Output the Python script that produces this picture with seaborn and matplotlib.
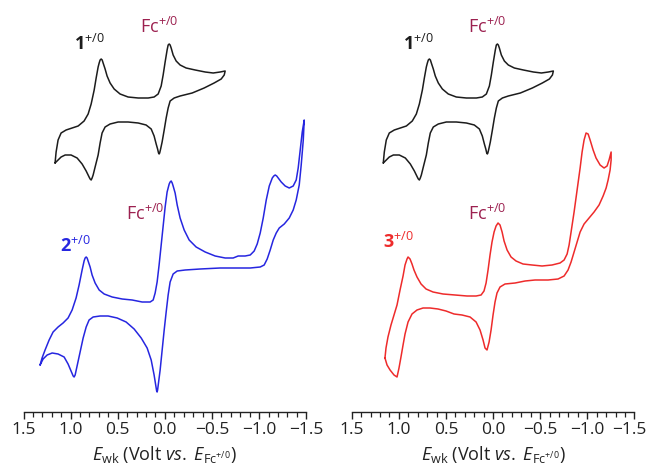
import numpy as np
import pandas as pd
import matplotlib
matplotlib.use("Agg")
import matplotlib.pyplot as plt
from matplotlib.ticker import MultipleLocator
from matplotlib.transforms import ScaledTranslation
import seaborn as sns

# ---------------- data: potential (V vs Fc+/0) and current (a.u., traces stacked) ----------------
# compound 1 (reference trace, same in both panels)
cv1_fwd_E = [1.165, 1.154, 1.133, 1.101, 1.048, 0.984, 0.920, 0.857, 0.814, 0.782, 0.750, 0.729,
             0.708, 0.697, 0.687, 0.676, 0.665, 0.655, 0.634, 0.613, 0.581, 0.538, 0.475, 0.390,
             0.283, 0.177, 0.114, 0.071, 0.039, 0.018, -0.003, -0.024, -0.035, -0.046, -0.056,
             -0.067, -0.088, -0.120, -0.162, -0.226, -0.322, -0.428, -0.513, -0.587, -0.640]
cv1_fwd_I = [25.0, 26.1, 27.3, 28.0, 28.3, 28.5, 28.7, 29.2, 29.9, 30.9, 32.3, 33.5,
             34.6, 35.0, 35.3, 35.4, 35.3, 35.0, 34.4, 33.7, 33.0, 32.4, 31.9, 31.6,
             31.5, 31.5, 31.6, 31.9, 32.7, 33.8, 35.1, 36.3, 36.8, 36.9, 36.8,
             36.5, 35.8, 35.2, 34.8, 34.5, 34.3, 34.1, 34.0, 34.1, 34.2]
cv1_rev_E = [-0.640, -0.630, -0.598, -0.523, -0.417, -0.290, -0.162, -0.099, -0.056, -0.035,
             -0.014, 0.007, 0.029, 0.045, 0.055, 0.061, 0.067, 0.077, 0.092, 0.114, 0.145,
             0.199, 0.283, 0.390, 0.496, 0.581, 0.634, 0.666, 0.687, 0.708, 0.740, 0.761,
             0.772, 0.782, 0.793, 0.804, 0.835, 0.878, 0.931, 0.995, 1.058, 1.101, 1.133,
             1.165]
cv1_rev_I = [34.2, 33.8, 33.4, 33.0, 32.5, 32.0, 31.7, 31.5, 31.2, 30.5,
             29.5, 28.3, 27.1, 26.4, 26.0, 25.9, 26.0, 26.4, 26.9, 27.7, 28.4,
             28.8, 29.0, 29.1, 29.1, 28.9, 28.6, 28.0, 27.0, 25.8, 24.6, 23.8,
             23.5, 23.3, 23.4, 23.6, 24.2, 24.9, 25.5, 25.8, 25.8, 25.6, 25.3,
             25.0]

# compound 2 with internal Fc
cv2_fwd_E = [1.324, 1.303, 1.271, 1.228, 1.186, 1.133, 1.080, 1.027, 0.984, 0.942, 0.910, 0.878,
             0.857, 0.846, 0.835, 0.825, 0.814, 0.793, 0.772, 0.740, 0.697, 0.644, 0.559, 0.453,
             0.347, 0.241, 0.156, 0.124, 0.103, 0.082, 0.061, 0.039, 0.018, -0.003, -0.024,
             -0.046, -0.056, -0.067, -0.078, -0.088, -0.109, -0.131, -0.162, -0.205, -0.258,
             -0.332, -0.428, -0.534, -0.640, -0.725, -0.778, -0.852, -0.906, -0.948, -0.980,
             -1.012, -1.044, -1.076, -1.108, -1.140, -1.156, -1.171, -1.187, -1.203, -1.235,
             -1.277, -1.320, -1.362, -1.394, -1.415, -1.436, -1.458, -1.479]
cv2_fwd_I = [4.8, 5.5, 6.3, 7.3, 8.1, 8.6, 9.0, 9.5, 10.3, 11.5, 12.8, 14.3,
             15.2, 15.5, 15.6, 15.5, 15.2, 14.6, 13.8, 13.0, 12.3, 11.9, 11.6, 11.4,
             11.3, 11.1, 11.1, 11.3, 12.0, 13.1, 14.8, 16.8, 18.8, 20.6, 22.1,
             22.9, 23.1, 23.2, 23.0, 22.7, 22.0, 20.8, 19.5, 18.3, 17.3,
             16.6, 16.1, 15.7, 15.5, 15.5, 15.7, 15.7, 15.8, 16.2, 16.9,
             18.0, 19.5, 21.3, 22.7, 23.5, 23.7, 23.8, 23.7, 23.5, 23.1,
             22.7, 22.5, 22.7, 23.3, 24.5, 26.3, 28.1, 29.3]
cv2_rev_E = [-1.479, -1.469, -1.447, -1.426, -1.394, -1.362, -1.320, -1.267, -1.214, -1.182,
             -1.150, -1.118, -1.086, -1.054, -1.012, -0.906, -0.746, -0.587, -0.375, -0.216,
             -0.131, -0.088, -0.056, -0.035, -0.014, 0.007, 0.029, 0.050, 0.071, 0.077,
             0.082, 0.087, 0.092, 0.114, 0.145, 0.188, 0.251, 0.326, 0.411, 0.506, 0.602,
             0.687, 0.761, 0.804, 0.835, 0.867, 0.899, 0.931, 0.952, 0.963, 0.973, 0.995,
             1.027, 1.069, 1.133, 1.196, 1.249, 1.292, 1.324]
cv2_rev_I = [29.3, 27.3, 24.8, 22.8, 21.3, 20.3, 19.5, 18.9, 18.5, 18.0,
             17.3, 16.3, 15.4, 14.8, 14.6, 14.5, 14.5, 14.5, 14.4, 14.3,
             14.2, 13.9, 13.1, 11.8, 10.1, 8.3, 6.3, 4.3, 2.8, 2.3,
             2.1, 2.2, 2.5, 3.8, 5.3, 6.5, 7.5, 8.4, 9.1, 9.5, 9.7,
             9.7, 9.6, 9.3, 8.6, 7.5, 6.1, 4.7, 3.8, 3.6, 3.7, 4.2,
             4.9, 5.6, 5.9, 6.0, 5.8, 5.4, 4.8]

# compound 3 with internal Fc
cv3_fwd_E = [1.147, 1.136, 1.115, 1.083, 1.051, 1.019, 0.987, 0.955, 0.934, 0.913, 0.902, 0.881,
             0.860, 0.839, 0.807, 0.764, 0.711, 0.637, 0.531, 0.403, 0.276, 0.180, 0.127, 0.096,
             0.074, 0.053, 0.032, 0.011, -0.011, -0.032, -0.053, -0.074, -0.096, -0.117, -0.149,
             -0.191, -0.244, -0.318, -0.414, -0.520, -0.626, -0.711, -0.754, -0.786, -0.807,
             -0.828, -0.860, -0.892, -0.924, -0.945, -0.966, -0.987, -1.009, -1.030, -1.062,
             -1.093, -1.136, -1.178, -1.210, -1.231, -1.253]
cv3_fwd_I = [5.5, 6.5, 7.6, 8.8, 9.8, 10.8, 12.3, 13.7, 14.8, 15.4, 15.6, 15.4,
             14.9, 14.3, 13.6, 12.9, 12.4, 12.1, 11.9, 11.8, 11.7, 11.7, 11.8, 12.2,
             13.0, 14.3, 15.8, 17.1, 18.1, 18.7, 19.0, 18.8, 18.1, 17.2, 16.3,
             15.6, 15.2, 14.9, 14.8, 14.7, 14.8, 15.0, 15.3, 15.9, 16.8,
             18.1, 20.1, 22.3, 24.5, 26.1, 27.3, 28.0, 27.9, 27.3, 26.3,
             25.5, 24.8, 24.5, 24.7, 25.3, 26.1]
cv3_rev_E = [-1.253, -1.253, -1.242, -1.221, -1.200, -1.168, -1.125, -1.072, -1.019, -0.966,
             -0.924, -0.892, -0.860, -0.828, -0.796, -0.754, -0.690, -0.584, -0.446, -0.340,
             -0.234, -0.127, -0.074, -0.042, -0.021, 0.000, 0.021, 0.042, 0.064, 0.085,
             0.106, 0.138, 0.180, 0.244, 0.329, 0.414, 0.499, 0.584, 0.669, 0.743, 0.807,
             0.860, 0.902, 0.934, 0.955, 0.977, 0.998, 1.019, 1.051, 1.093, 1.125, 1.147]
cv3_rev_I = [26.1, 25.3, 24.3, 23.3, 22.5, 21.7, 20.8, 20.1, 19.5, 18.9,
             18.1, 17.1, 16.1, 15.1, 14.3, 13.7, 13.4, 13.3, 13.3, 13.2,
             13.0, 12.9, 12.6, 12.0, 11.1, 9.8, 8.3, 7.1, 6.3, 6.5,
             7.3, 8.3, 9.1, 9.6, 9.8, 9.9, 10.2, 10.4, 10.5, 10.5, 10.3,
             9.9, 9.1, 7.9, 6.8, 5.6, 4.5, 3.6, 3.8, 4.3, 4.8, 5.5]

x_ticks = [1.5, 1.0, 0.5, 0.0, -0.5, -1.0, -1.5]

# ---------------- style ----------------
sns.set_style("ticks")
plt.rcParams["font.family"] = ["Open Sans", "DejaVu Sans"]
plt.rcParams["mathtext.fontset"] = "custom"
plt.rcParams["mathtext.rm"] = "Open Sans"
plt.rcParams["mathtext.it"] = "Open Sans:italic"
plt.rcParams["mathtext.bf"] = "Open Sans:bold"

BLACK = "#1c1c1c"
BLUE = "#2626e0"
RED = "#ee2b2b"
FC = "#9c2150"
AXC = "#222222"
LW = 1.1


def loop(fe, fi, re, ri):
    return pd.DataFrame({"E": list(fe) + list(re), "I": list(fi) + list(ri)})


cv1 = loop(cv1_fwd_E, cv1_fwd_I, cv1_rev_E, cv1_rev_I)
cv2 = loop(cv2_fwd_E, cv2_fwd_I, cv2_rev_E, cv2_rev_I)
cv3 = loop(cv3_fwd_E, cv3_fwd_I, cv3_rev_E, cv3_rev_I)

fig = plt.figure(figsize=(6.49, 4.70), dpi=100)
ax_l = fig.add_axes([23.5 / 649, (470 - 412) / 470, 282.7 / 649, 412 / 470])
ax_r = fig.add_axes([351.7 / 649, (470 - 412) / 470, 282.7 / 649, 412 / 470])

for ax, cv, col in ((ax_l, cv2, BLUE), (ax_r, cv3, RED)):
    sns.lineplot(data=cv1, x="E", y="I", sort=False, estimator=None, color=BLACK, lw=LW, ax=ax)
    sns.lineplot(data=cv, x="E", y="I", sort=False, estimator=None, color=col, lw=LW, ax=ax)
    for ln in ax.lines:
        ln.set_solid_joinstyle("round")
    ax.set_xlim(1.5, -1.5)
    ax.set_ylim(0.1, 41.3)
    ax.set_xticks(x_ticks)
    ax.set_xticklabels([f"{t:.1f}".replace("-", "\u2212") for t in x_ticks])
    ax.xaxis.set_minor_locator(MultipleLocator(0.1))
    ax.tick_params(axis="x", which="major", bottom=True, direction="out", length=5.0,
                   width=1.0, labelsize=12.5, pad=2.5, color=AXC, labelcolor=AXC)
    ax.tick_params(axis="x", which="minor", bottom=True, direction="out", length=3.5,
                   width=0.9, color=AXC)
    ax.yaxis.set_visible(False)
    for s in ("left", "right", "top"):
        ax.spines[s].set_visible(False)
    ax.spines["bottom"].set_linewidth(1.0)
    ax.spines["bottom"].set_color(AXC)
    ax.set_xlabel(r"$E_{\rm wk}$ (Volt $vs.$ $E_{\rm Fc^{+/0}}$)", fontsize=13,
                  labelpad=4, color=AXC)
    ax.set_ylabel("")
    ax.patch.set_alpha(0)

# keep the last tick label of the right panel inside the canvas
last = ax_r.get_xticklabels()[-1]
last.set_transform(last.get_transform() + ScaledTranslation(-4 / 72, 0, fig.dpi_scale_trans))

# labels for each redox couple
ax_l.text(0.963, 36.3, r"$\mathbf{1}^{+/0}$", color=BLACK, fontsize=13, va="baseline")
ax_l.text(0.261, 38.0, r"Fc$^{+/0}$", color=FC, fontsize=13, va="baseline")
ax_l.text(0.411, 19.3, r"Fc$^{+/0}$", color=FC, fontsize=13, va="baseline")
ax_l.text(1.111, 16.1, r"$\mathbf{2}^{+/0}$", color=BLUE, fontsize=13, va="baseline")

ax_r.text(0.959, 36.3, r"$\mathbf{1}^{+/0}$", color=BLACK, fontsize=13, va="baseline")
ax_r.text(0.265, 38.0, r"Fc$^{+/0}$", color=FC, fontsize=13, va="baseline")
ax_r.text(0.265, 19.3, r"Fc$^{+/0}$", color=FC, fontsize=13, va="baseline")
ax_r.text(1.168, 16.5, r"$\mathbf{3}^{+/0}$", color=RED, fontsize=13, va="baseline")

fig.savefig("out.png", dpi=100)
